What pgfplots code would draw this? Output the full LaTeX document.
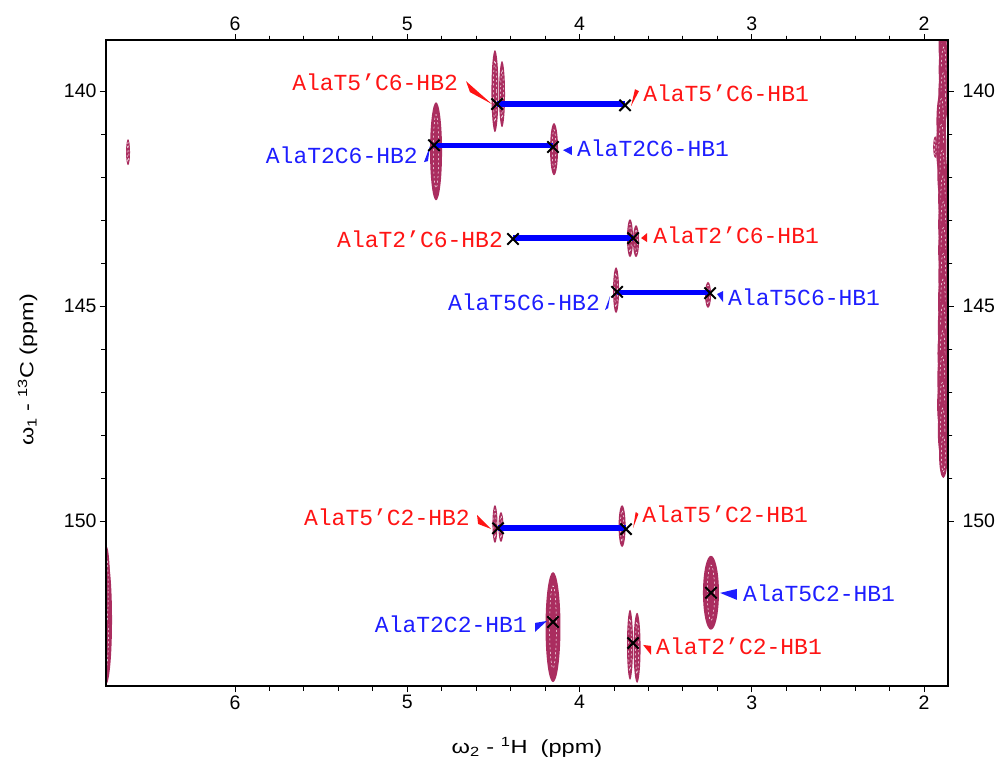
\documentclass[border=0pt]{standalone}
\usepackage{pgfplots}
\pgfplotsset{compat=1.18}
\usepackage{pgfplotstable}
\usepackage{graphicx}
\usepackage{fontspec}
\setmainfont{Liberation Sans}
\newfontfamily\monolab{Liberation Mono}
\usetikzlibrary{calc}

\definecolor{peakcol}{RGB}{170,45,95}
\definecolor{labred}{RGB}{255,20,20}
\definecolor{labblue}{RGB}{30,30,255}
\definecolor{linkblue}{RGB}{0,0,255}

% contour lobes: centre (ppm) and half widths (ppm) along each axis
\pgfplotstableread{
x      y       rx      ry
6.621  141.42  0.0116  0.302
4.491  140.00  0.0203  0.953
4.450  140.07  0.0174  0.767
4.833  141.40  0.0348  1.140
4.148  141.35  0.0232  0.605
3.707  143.42  0.0174  0.442
3.672  143.49  0.0174  0.372
3.788  144.63  0.0174  0.535
3.254  144.74  0.0174  0.302
4.491  150.07  0.0145  0.442
4.456  150.14  0.0145  0.349
3.753  150.12  0.0203  0.488
3.237  151.67  0.0464  0.860
4.154  152.47  0.0435  1.279
3.707  152.88  0.0174  0.814
3.666  152.95  0.0203  0.814
6.749  152.30  0.0350  1.500
6.745  151.60  0.0200  1.000
1.886  138.90  0.0300  0.700
1.886  139.50  0.0290  0.700
1.889  140.10  0.0280  0.700
1.900  140.70  0.0280  0.700
1.900  141.30  0.0300  0.700
1.935  141.30  0.0120  0.250
1.895  141.90  0.0280  0.700
1.890  142.50  0.0280  0.700
1.888  143.10  0.0300  0.700
1.888  143.70  0.0300  0.700
1.888  144.30  0.0290  0.700
1.890  144.90  0.0290  0.700
1.890  145.50  0.0300  0.700
1.892  146.10  0.0300  0.700
1.894  146.70  0.0290  0.700
1.894  147.30  0.0300  0.700
1.892  147.90  0.0280  0.700
1.888  148.45  0.0250  0.550
}\peaks

% assigned peak positions
\pgfplotstableread{
x      y
4.479  140.30
3.736  140.33
4.845  141.26
4.154  141.30
4.386  143.44
3.689  143.42
3.782  144.67
3.242  144.70
4.473  150.17
3.730  150.19
3.237  151.67
4.154  152.35
3.689  152.84
}\assigned

% 1 ppm = 172.25pt along x, 43pt along y
\pgfdeclareplotmark{lobe}{%
  \pgfpathellipse{\pgfpointorigin}{\pgfpoint{\rx*172.25pt}{0pt}}{\pgfpoint{0pt}{\ry*43pt}}%
  \pgfusepathqfill
  \begin{pgfscope}
    \pgfsetstrokecolor{white}
    \pgfsetlinewidth{0.5pt}
    \pgfsetdash{{2pt}{2.5pt}}{0pt}
    \pgfpathellipse{\pgfpointorigin}{\pgfpoint{\rx*0.45*172.25pt}{0pt}}{\pgfpoint{0pt}{\ry*0.75*43pt}}%
    \pgfusepathqstroke
  \end{pgfscope}
}

\pgfplotsset{
  nmr/.style={
    scale only axis, width=842pt, height=646pt,
    xmin=1.861, xmax=6.749, ymin=138.81, ymax=153.84,
    x dir=reverse, y dir=reverse,
    xtick={2,3,4,5,6}, ytick={140,145,150},
    minor x tick num=4, minor y tick num=4,
    tick align=outside,
    major tick length=6pt, minor tick length=4.5pt,
    axis line style={line width=1.8pt},
    every tick/.style={black, line width=0.9pt},
    tick label style={font=\fontsize{19.5}{22}\selectfont},
    /pgf/number format/assume math mode=true,
  },
}
\tikzset{lab/.style={font=\monolab\fontsize{23}{26}\selectfont, inner sep=0pt}}

\begin{document}
\begin{tikzpicture}
\begin{axis}[nmr, clip marker paths=true]
  % contours
  \addplot[peakcol, only marks, mark=lobe,
    visualization depends on={\thisrow{rx}\as\rx},
    visualization depends on={\thisrow{ry}\as\ry}]
    table[x=x, y=y] {\peaks};

  % connections between the two beta protons
  \addplot[linkblue, line width=5.5pt] coordinates {(4.479,140.30) (3.736,140.30)};
  \addplot[linkblue, line width=5.5pt] coordinates {(4.845,141.27) (4.154,141.27)};
  \addplot[linkblue, line width=5.5pt] coordinates {(4.386,143.42) (3.689,143.42)};
  \addplot[linkblue, line width=5.5pt] coordinates {(3.782,144.68) (3.242,144.68)};
  \addplot[linkblue, line width=5.5pt] coordinates {(4.473,150.16) (3.730,150.16)};

  % label pointers
  \addplot[labred, fill=labred, draw=none] coordinates {(4.659,139.767) (4.636,140.023) (4.508,140.302)};
  \addplot[labred, fill=labred, draw=none] coordinates {(3.678,139.953) (3.655,140.000) (3.701,140.349)};
  \addplot[labblue, fill=labblue, draw=none] coordinates {(4.903,141.651) (4.880,141.628) (4.868,141.279)};
  \addplot[labblue, fill=labblue, draw=none] coordinates {(4.044,141.279) (4.044,141.488) (4.096,141.372)};
  \addplot[labred, fill=labred, draw=none] coordinates {(3.608,143.302) (3.608,143.512) (3.643,143.419)};
  \addplot[labblue, fill=labblue, draw=none] coordinates {(3.852,145.093) (3.834,145.047) (3.823,144.767)};
  \addplot[labblue, fill=labblue, draw=none] coordinates {(3.167,144.651) (3.167,144.907) (3.202,144.721)};
  \addplot[labred, fill=labred, draw=none] coordinates {(4.595,149.860) (4.589,150.070) (4.514,150.186)};
  \addplot[labred, fill=labred, draw=none] coordinates {(3.674,149.791) (3.658,149.837) (3.689,150.163)};
  \addplot[labblue, fill=labblue, draw=none] coordinates {(3.086,151.581) (3.086,151.837) (3.184,151.674)};
  \addplot[labblue, fill=labblue, draw=none] coordinates {(4.258,152.372) (4.258,152.581) (4.189,152.326)};
  \addplot[labred, fill=labred, draw=none] coordinates {(3.631,152.884) (3.585,152.907) (3.585,153.116)};

  % peak crosses
  \addplot[black, only marks, mark=x, mark size=8pt, mark options={line width=2pt}]
    table[x=x, y=y] {\assigned};

  % assignments
  \node[lab, labred,  anchor=base east] at (axis cs:4.705,139.977) {AlaT5’C6-HB2};
  \node[lab, labred,  anchor=base west] at (axis cs:3.631,140.233) {AlaT5’C6-HB1};
  \node[lab, labblue, anchor=base east] at (axis cs:4.938,141.674) {AlaT2C6-HB2};
  \node[lab, labblue, anchor=base west] at (axis cs:4.015,141.512) {AlaT2C6-HB1};
  \node[lab, labred,  anchor=base east] at (axis cs:4.444,143.628) {AlaT2’C6-HB2};
  \node[lab, labred,  anchor=base west] at (axis cs:3.573,143.535) {AlaT2’C6-HB1};
  \node[lab, labblue, anchor=base east] at (axis cs:3.881,145.093) {AlaT5C6-HB2};
  \node[lab, labblue, anchor=base west] at (axis cs:3.138,144.977) {AlaT5C6-HB1};
  \node[lab, labred,  anchor=base east] at (axis cs:4.636,150.116) {AlaT5’C2-HB2};
  \node[lab, labred,  anchor=base west] at (axis cs:3.637,150.047) {AlaT5’C2-HB1};
  \node[lab, labblue, anchor=base west] at (axis cs:3.051,151.884) {AlaT5C2-HB1};
  \node[lab, labblue, anchor=base east] at (axis cs:4.305,152.605) {AlaT2C2-HB1};
  \node[lab, labred,  anchor=base west] at (axis cs:3.556,153.116) {AlaT2’C2-HB1};
\end{axis}
% same frame, numbered along the top and right edges
\begin{axis}[nmr, xticklabel pos=upper, yticklabel pos=right,
  yticklabel style={xshift=5pt}]
\end{axis}

\node[anchor=base, font=\fontsize{19}{21}\selectfont]
  at ($(current axis.south)+(0,-67pt)$)
  {\scalebox{1.24}[1]{ω\textsubscript{2} - \textsuperscript{1}H\ \ (ppm)}};
\node[anchor=base, rotate=90, font=\fontsize{19}{21}\selectfont]
  at ($(current axis.west)+(-72.5pt,-7pt)$)
  {\scalebox{1.23}[1]{ω\textsubscript{1} - \textsuperscript{13}C (ppm)}};

\pgfresetboundingbox
\useasboundingbox ($(current axis.south west)+(-106pt,-72pt)$) rectangle ($(current axis.north east)+(50pt,40pt)$);
\end{tikzpicture}
\end{document}
